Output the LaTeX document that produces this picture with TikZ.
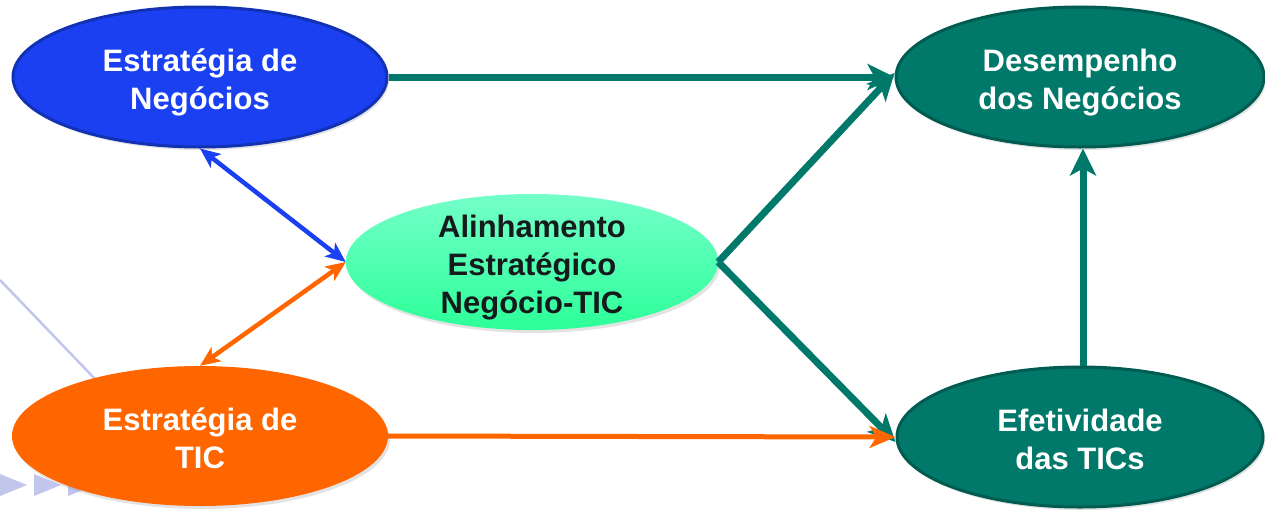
\documentclass[tikz,border=0pt]{standalone}
\usepackage{fontspec}
\setmainfont{Liberation Sans}
\usetikzlibrary{shapes.geometric,arrows.meta,shadows}
\definecolor{bluefill}{HTML}{1A40F2}
\definecolor{blueline}{HTML}{1232B4}
\definecolor{orangec}{HTML}{FF6600}
\definecolor{tealc}{HTML}{00796A}
\definecolor{tealdark}{HTML}{005C50}
\definecolor{greentop}{HTML}{74FFC9}
\definecolor{greenbot}{HTML}{2CFF98}
\definecolor{darktext}{HTML}{151A1C}
\definecolor{lavender}{HTML}{C2C6EC}
\newcommand{\ovtxt}[1]{\raisebox{-12pt}[0pt][0pt]{\begin{tabular}{@{}c@{}}#1\end{tabular}}}
\tikzset{
  oval/.style={ellipse, inner sep=0pt, font=\fontsize{31}{38}\selectfont\bfseries,
    drop shadow={opacity=0.22, shadow xshift=2pt, shadow yshift=-3pt}},
  ovalw/.style={oval, minimum width=374pt, minimum height=140pt, text=white},
  tealarrow/.style={draw=tealc, line width=7pt, -{Stealth[length=27pt, width=26pt, inset=7pt]}},
  orangearrow/.style={draw=orangec, line width=5pt, -{Stealth[length=26pt, width=22pt, inset=7pt]}},
  dbl/.style={line width=4.5pt, {Stealth[length=20pt, width=17pt, inset=5pt]}-{Stealth[length=20pt, width=17pt, inset=5pt]}},
  deco/.style={fill=lavender}
}
\begin{document}
\begin{tikzpicture}[x=1pt, y=-1pt]
\useasboundingbox (0,0) rectangle (1265,509);
% background decoration
\draw[lavender, line width=2.5pt] (0,280) -- (120,405);
\foreach \xx in {0,34,68,102} {
  \fill[deco] (\xx,474) -- (\xx+27,485) -- (\xx,496) -- cycle;
}
% nodes
\node[ovalw, fill=bluefill, draw=blueline, line width=3pt] (nb) at (200,77) {\ovtxt{Estratégia de\\Negócios}};
\node[ovalw, fill=orangec, minimum width=376pt, minimum height=140pt] (tic) at (200,436) {\ovtxt{Estratégia de\\TIC}};
\node[oval, minimum width=372pt, minimum height=136pt, top color=greentop, bottom color=greenbot, text=darktext] (al) at (532,262) {\ovtxt{Alinhamento\\Estratégico\\Negócio-TIC}};
\node[ovalw, fill=tealc, draw=tealdark, line width=3pt, minimum width=368pt] (des) at (1080,77) {\ovtxt{Desempenho\\dos Negócios}};
\node[ovalw, fill=tealc, draw=tealdark, line width=3pt, minimum width=366pt] (efe) at (1080,437) {\ovtxt{Efetividade\\das TICs}};
% connectors
\draw[tealarrow] (nb.east) -- (des.west);
\draw[tealarrow] (al.east) -- ([yshift=4pt]des.west);
\draw[tealarrow] (al.east) -- ([yshift=-5pt]efe.west);
\draw[orangearrow] (tic.east) -- (efe.west);
\draw[tealarrow] ([xshift=3pt]efe.north) -- ([xshift=3pt]des.south);
\draw[dbl, draw=bluefill] (nb.south) -- (al.west);
\draw[dbl, draw=orangec] (al.west) -- (tic.north);
\end{tikzpicture}
\end{document}
